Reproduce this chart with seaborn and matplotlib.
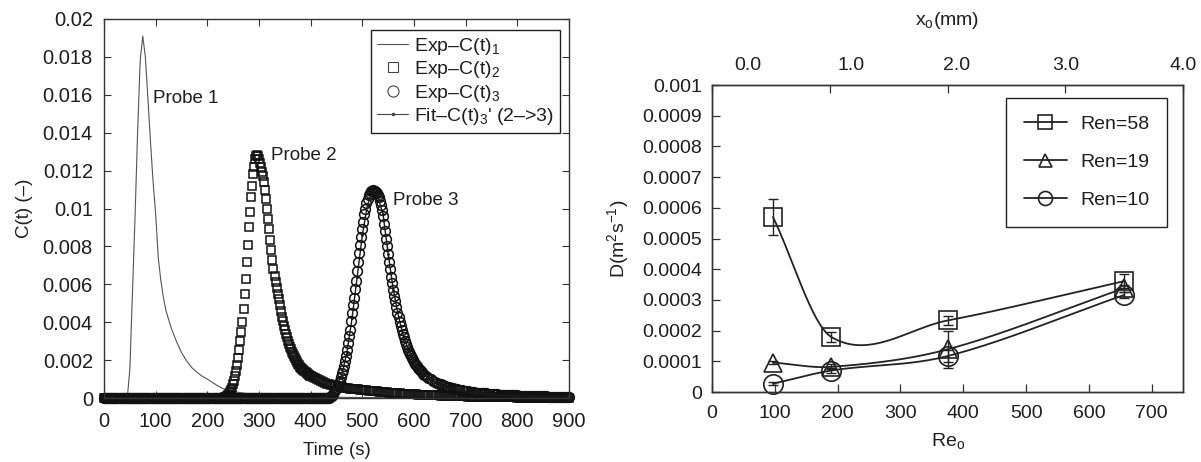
import numpy as np
import matplotlib
matplotlib.use("Agg")
import matplotlib.pyplot as plt
import seaborn as sns
from matplotlib.lines import Line2D

# ---------------- data: left panel (C(t) curves, values in units of 1e-4) -------------
t1 = [0, 40, 45, 50, 55, 60, 65, 70, 75, 80, 85, 90, 95, 100, 105, 110, 115, 120, 130, 140,
      150, 160, 170, 180, 190, 200, 210, 220, 230, 240, 260, 280, 300, 350, 400, 450, 500,
      600, 700, 800, 900]
c1_e4 = [0, 0, 0, 15, 55, 95, 140, 178, 191, 180, 158, 135, 114, 97, 74, 62, 53, 46, 37, 30,
         24, 19.5, 16, 13.5, 11.5, 10, 8.2, 6.5, 5, 4, 3, 2.2, 1.7, 1.0, 0.6, 0.4, 0.25,
         0.1, 0.05, 0.02, 0.01]

# probe 2 (squares): reads 0 before 232 s, 2 s samples 232..398, 4 s samples 400..900
p2_seg = (232, 400)
c2_dense_e4 = [0.2, 0.4, 0.6, 1.0, 1.5, 2.2, 3, 4.2, 5.5, 7.2,               # 232..250
               9, 11.5, 14, 17.5, 21, 25.5, 30, 35, 40, 47,                  # 252..270
               55, 63, 72, 81, 90, 98, 106, 112, 118, 122,                   # 272..290
               126, 127.5, 128, 127.5, 126, 124, 122, 119.5, 117, 114,       # 292..310
               110, 105, 100, 94.5, 89, 83.5, 78, 73, 68, 64.5,              # 312..330
               61, 58, 55, 52, 49, 46, 43, 40.5, 38, 36,                     # 332..350
               34, 32, 30, 28.5, 27, 25.7, 24.5, 23.2, 22, 21,               # 352..370
               20, 19, 18, 17.2, 16.5, 15.8, 15.2, 14.6, 14, 13.5,           # 372..390
               13, 12.6, 12.2, 11.8]                                         # 392..398
c2_tail_e4 = [11.5, 11, 10.4, 9.9, 9.4, 8.9, 8.4, 8,                         # 400..428
              7.6, 7.3, 7.0, 6.7, 6.4, 6.1, 5.9, 5.7, 5.5, 5.3,              # 432..468
              5.1, 4.9, 4.8, 4.7, 4.6, 4.5, 4.4, 4.3, 4.2, 4.0,              # 472..508
              3.9, 3.8, 3.7, 3.6, 3.5, 3.4, 3.3, 3.2, 3.1, 3.0,              # 512..548
              2.9, 2.8, 2.7, 2.6, 2.5, 2.4, 2.35, 2.3, 2.2, 2.1,             # 552..588
              2.05, 2.0, 1.95, 1.9, 1.85, 1.8, 1.75, 1.7, 1.65, 1.6,         # 592..628
              1.55, 1.5, 1.45, 1.4, 1.35, 1.3, 1.25, 1.2, 1.15, 1.1,         # 632..668
              1.05, 1.0, 0.97, 0.94, 0.91, 0.88, 0.85, 0.82, 0.79, 0.76,     # 672..708
              0.73, 0.7, 0.67, 0.64, 0.62, 0.6, 0.58, 0.56, 0.54, 0.52,      # 712..748
              0.5, 0.48, 0.46, 0.44, 0.42, 0.4, 0.38, 0.36, 0.34, 0.32,      # 752..788
              0.3, 0.28, 0.26, 0.25, 0.24, 0.23, 0.22, 0.21, 0.2, 0.19,      # 792..828
              0.18, 0.17, 0.16, 0.15, 0.14, 0.13, 0.12, 0.11, 0.1, 0.09,     # 832..868
              0.08, 0.07, 0.06, 0.05, 0.04, 0.03, 0.02, 0.01]                # 872..900

# probe 3 (circles): reads 0 before 436 s, 2 s samples 436..618, 4 s samples 620..900
p3_seg = (436, 620)
c3_dense_e4 = [0.2, 0.5, 0.8, 1.3, 2, 3, 4, 5.2, 6.5, 7.7,                   # 436..454
               9, 11, 13, 15, 17, 19.5, 22, 25.5, 29, 32.5,                  # 456..474
               36, 40.5, 45, 49, 53, 57.5, 62, 67, 72, 76.5,                 # 476..494
               81, 85, 89, 93, 97, 100, 103, 105, 107, 108,                  # 496..514
               109, 109.3, 109.5, 109.3, 109, 108.5, 108, 107, 106, 104,     # 516..534
               102, 99, 96, 92, 88, 84, 80, 76, 72, 68,                      # 536..554
               64, 60.5, 57, 54, 51, 48, 45, 42.5, 40, 38,                   # 556..574
               36, 34, 32, 30.2, 28.5, 27, 25.5, 24.2, 23, 22,               # 576..594
               21, 20, 19, 18.2, 17.5, 16.7, 16, 15.3, 14.7, 14.1,           # 596..614
               13.5, 12.9]                                                   # 616..618
c3_tail_e4 = [12.4, 11.4, 10.6, 9.9,                                         # 620..632
              9.2, 8.6, 8.1, 7.6, 7.2, 6.8, 6.4, 6.0, 5.7, 5.4,              # 636..672
              5.1, 4.8, 4.6, 4.3, 4.1, 3.9, 3.7, 3.5, 3.4, 3.2,              # 676..712
              3.1, 2.9, 2.8, 2.7, 2.6, 2.5, 2.4, 2.3, 2.2, 2.1,              # 716..752
              2.0, 1.9, 1.85, 1.8, 1.75, 1.7, 1.6, 1.55, 1.5, 1.45,          # 756..792
              1.4, 1.35, 1.3, 1.25, 1.2, 1.15, 1.1, 1.05, 1.0, 0.98,         # 796..832
              0.95, 0.92, 0.9, 0.87, 0.84, 0.81, 0.78, 0.75, 0.72, 0.69,     # 836..872
              0.66, 0.63, 0.6, 0.58, 0.56, 0.54, 0.52]                       # 876..900

stepfit = 10
tfit_start = 400
cfit_e4 = [0, 0.05, 0.3, 1.0, 2.5, 6, 12, 24, 42, 64,              # 400..490
           86, 102, 109, 106, 97, 76, 57, 43, 32, 25,               # 500..590
           19.5, 15.5, 12.5, 10.2, 8.5, 7.2, 6.2, 5.3, 4.6, 4.0,    # 600..690
           3.5, 3.1, 2.7, 2.4, 2.1, 1.9, 1.7, 1.5, 1.35, 1.2,       # 700..790
           1.1, 1.0, 0.9, 0.82, 0.75, 0.68, 0.62, 0.57, 0.52, 0.48, # 800..890
           0.44]                                                    # 900

left_series_labels = ["Exp–C(t)$_1$", "Exp–C(t)$_2$", "Exp–C(t)$_3$", "Fit–C(t)$_3$' (2–>3)"]
probe_labels = ["Probe 1", "Probe 2", "Probe 3"]
probe_label_t = [95, 324, 560]
probe_label_c = [0.0158, 0.0128, 0.01043]
left_xticks = [0, 100, 200, 300, 400, 500, 600, 700, 800, 900]
left_yticks = [0, 0.002, 0.004, 0.006, 0.008, 0.01, 0.012, 0.014, 0.016, 0.018, 0.02]
left_ytick_labels = ["0", "0.002", "0.004", "0.006", "0.008", "0.01", "0.012",
                     "0.014", "0.016", "0.018", "0.02"]

# ---------------- data: right panel (D vs Re_o) ----------------
re_o = [97, 190, 375, 656]
d_ren58 = [0.000570, 0.000179, 0.000233, 0.000361]
e_ren58 = [0.000058, 0.000016, 0.000016, 0.000022]
d_ren19 = [0.000096, 0.000082, 0.000139, 0.000338]
e_ren19 = [0.000006, 0.000008, 0.000060, 0.000012]
d_ren10 = [0.000027, 0.000070, 0.000117, 0.000316]
e_ren10 = [0.000004, 0.000008, 0.000020, 0.000010]
right_labels = ["Ren=58", "Ren=19", "Ren=10"]
right_xticks = [0, 100, 200, 300, 400, 500, 600, 700]
right_yticks = [0, 0.0001, 0.0002, 0.0003, 0.0004, 0.0005, 0.0006, 0.0007, 0.0008, 0.0009, 0.001]
right_ytick_labels = ["0", "0.0001", "0.0002", "0.0003", "0.0004", "0.0005", "0.0006",
                      "0.0007", "0.0008", "0.0009", "0.001"]
top_xticks = [0, 1, 2, 3, 4]
top_xtick_labels = ["0.0", "1.0", "2.0", "3.0", "4.0"]
top_label_pos = [0.30, 1.18, 2.08, 3.0, 4.0]   # where the printed x_o labels sit

# ---------------- style ----------------
sns.set_theme(style="ticks")
plt.rcParams["font.family"] = ["Liberation Sans", "DejaVu Sans"]
plt.rcParams["mathtext.fontset"] = "custom"
plt.rcParams["mathtext.rm"] = "Liberation Sans"
plt.rcParams["mathtext.it"] = "Liberation Sans:italic"
plt.rcParams["mathtext.default"] = "regular"
TXT = "#1e1e1e"
SP = "#333333"

fig = plt.figure(figsize=(12.01, 4.62), dpi=100)
ax1 = fig.add_axes([0.0866, 0.1385, 0.3872, 0.8204])
ax2 = fig.add_axes([0.5929, 0.1515, 0.3922, 0.6645])

# ---------------- left panel ----------------
t2 = np.concatenate([np.arange(0, p2_seg[0], 2), np.arange(p2_seg[0], p2_seg[1], 2),
                     np.arange(p2_seg[1], 901, 4)])
c2 = np.concatenate([np.zeros(p2_seg[0] // 2), c2_dense_e4, c2_tail_e4]) * 1e-4
t3 = np.concatenate([np.arange(0, p3_seg[0], 2), np.arange(p3_seg[0], p3_seg[1], 2),
                     np.arange(p3_seg[1], 901, 4)])
c3 = np.concatenate([np.zeros(p3_seg[0] // 2), c3_dense_e4, c3_tail_e4]) * 1e-4
tf = np.arange(0, 901, stepfit)
cf = np.concatenate([np.zeros(tfit_start // stepfit), np.array(cfit_e4)]) * 1e-4
c1 = np.array(c1_e4) * 1e-4

sns.lineplot(x=t1, y=c1, ax=ax1, color="#555555", lw=0.8, estimator=None, sort=False)
sns.lineplot(x=t2, y=c2, ax=ax1, color="k", linestyle="", marker="s", markersize=5.4,
             markerfacecolor="none", markeredgecolor="#111", markeredgewidth=1.1,
             estimator=None, sort=False, clip_on=False)
sns.lineplot(x=t3, y=c3, ax=ax1, color="k", linestyle="", marker="o", markersize=7,
             markerfacecolor="none", markeredgecolor="#111", markeredgewidth=1.1,
             estimator=None, sort=False, clip_on=False)
sns.lineplot(x=tf, y=cf, ax=ax1, color="k", lw=1.0, marker=".", markersize=3,
             markeredgecolor="k", markeredgewidth=0.5, estimator=None, sort=False,
             clip_on=False)

ax1.set_xlim(0, 900)
ax1.set_ylim(0, 0.02)
ax1.set_xticks(left_xticks)
ax1.set_xticklabels([str(v) for v in left_xticks])
ax1.set_yticks(left_yticks)
ax1.set_yticklabels(left_ytick_labels)
ax1.tick_params(direction="in", top=True, right=True, length=5, width=0.8,
                labelsize=14.5, colors=SP, labelcolor=TXT, pad=8)
ax1.tick_params(axis="x", pad=10)
for s in ax1.spines.values():
    s.set_color(SP)
    s.set_linewidth(1.0)
ax1.set_xlabel("Time (s)", fontsize=13.5, color=TXT, labelpad=8)
ax1.set_ylabel("C(t) (–)", fontsize=13.5, color=TXT, labelpad=7)
for lab, tx, cy in zip(probe_labels, probe_label_t, probe_label_c):
    ax1.text(tx, cy, lab, fontsize=13.5, color=TXT, va="center", ha="left")

h_left = [
    Line2D([], [], color="#555555", lw=0.8),
    Line2D([], [], color="k", ls="", marker="s", ms=6.5, mfc="none", mec="#444", mew=0.8),
    Line2D([], [], color="k", ls="", marker="o", ms=8, mfc="none", mec="#444", mew=0.8),
    Line2D([], [], color="#444", lw=0.8, marker=".", ms=3),
]
leg1 = ax1.legend(h_left, left_series_labels, loc="upper right",
                  bbox_to_anchor=(560 / 1201, 1 - 30 / 462), bbox_transform=fig.transFigure,
                  borderaxespad=0, fontsize=14, frameon=True, fancybox=False,
                  edgecolor="#222", framealpha=1, handlelength=1.6, handletextpad=0.3,
                  borderpad=0.3, labelspacing=0.12)
leg1.get_frame().set_linewidth(1.0)
for txt in leg1.get_texts():
    txt.set_color(TXT)

# ---------------- right panel ----------------
def smooth_curve(x, y, n=300):
    """Cubic Hermite curve through the points with Catmull-Rom style tangents."""
    x = np.asarray(x, float)
    y = np.asarray(y, float)
    k = len(x)
    m = np.empty(k)
    m[0] = (y[1] - y[0]) / (x[1] - x[0])
    m[-1] = (y[-1] - y[-2]) / (x[-1] - x[-2])
    for i in range(1, k - 1):
        m[i] = (y[i + 1] - y[i - 1]) / (x[i + 1] - x[i - 1])
    xs = np.linspace(x[0], x[-1], n)
    idx = np.clip(np.searchsorted(x, xs, side="right") - 1, 0, k - 2)
    h = x[idx + 1] - x[idx]
    s = (xs - x[idx]) / h
    h00 = 2 * s ** 3 - 3 * s ** 2 + 1
    h10 = s ** 3 - 2 * s ** 2 + s
    h01 = -2 * s ** 3 + 3 * s ** 2
    h11 = s ** 3 - s ** 2
    ys = h00 * y[idx] + h10 * h * m[idx] + h01 * y[idx + 1] + h11 * h * m[idx + 1]
    return xs, ys

series = [(d_ren58, e_ren58, "s", 13.5), (d_ren19, e_ren19, "^", 13), (d_ren10, e_ren10, "o", 14)]
for dv, ev, mk, ms in series:
    xs, ys = smooth_curve(re_o, dv)
    sns.lineplot(x=xs, y=ys, ax=ax2, color="#222", lw=1.3, estimator=None, sort=False)
    ax2.errorbar(re_o, dv, yerr=ev, fmt="none", ecolor="#222", elinewidth=1.0,
                 capsize=3.5, capthick=1.0)
    sns.lineplot(x=re_o, y=dv, ax=ax2, color="k", linestyle="", marker=mk, markersize=ms,
                 markerfacecolor="none", markeredgecolor="#222", markeredgewidth=1.2,
                 estimator=None, sort=False, clip_on=False)

ax2.set_xlim(0, 750)
ax2.set_ylim(0, 0.001)
ax2.set_xticks(right_xticks)
ax2.set_xticklabels([str(v) for v in right_xticks])
ax2.set_yticks(right_yticks)
ax2.set_yticklabels(right_ytick_labels)
ax2.tick_params(direction="in", length=6, width=0.9, labelsize=14, colors=SP,
                labelcolor=TXT, pad=7)
ax2.tick_params(axis="x", pad=9)
for s in ax2.spines.values():
    s.set_color(SP)
    s.set_linewidth(1.0)
ax2.set_xlabel("Re$_o$", fontsize=14, color=TXT, labelpad=7)
ax2.set_ylabel("D(m$^2$s$^{-1}$)", fontsize=14, color=TXT, labelpad=8)

ax3 = ax2.twiny()
ax3.set_xlim(0, 4)
ax3.xaxis.remove_overlapping_locs = False
ax3.set_xticks(top_xticks)
ax3.set_xticklabels([])
ax3.set_xticks(top_label_pos, minor=True)
ax3.set_xticklabels(top_xtick_labels, minor=True)
ax3.tick_params(which="major", direction="in", length=6, width=0.9, colors=SP)
ax3.tick_params(which="minor", length=0, labelsize=14, labelcolor=TXT, pad=8)
for s in ax3.spines.values():
    s.set_color(SP)
    s.set_linewidth(1.0)
ax3.set_xlabel("x$_o$(mm)", fontsize=14, color=TXT, labelpad=23)

h_right = [Line2D([], [], color="#222", lw=1.3, marker=mk, ms=ms * 0.72, mfc="none",
                  mec="#222", mew=1.2) for _, _, mk, ms in series]
leg2 = ax2.legend(h_right, right_labels, loc="upper right",
                  bbox_to_anchor=(1167 / 1201, 1 - 98 / 462), bbox_transform=fig.transFigure,
                  borderaxespad=0, fontsize=14, frameon=True, fancybox=False,
                  edgecolor="#222", framealpha=1, handlelength=2.2, handletextpad=0.7,
                  borderpad=0.9, labelspacing=1.05)
leg2.get_frame().set_linewidth(1.0)
for txt in leg2.get_texts():
    txt.set_color(TXT)

fig.savefig("out.png", dpi=100)
